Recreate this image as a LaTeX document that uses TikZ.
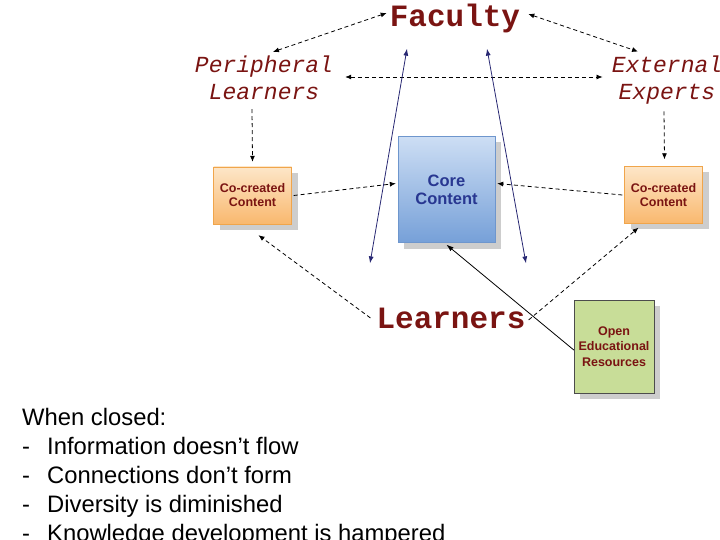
\documentclass[tikz,border=0pt]{standalone}
\usepackage{fontspec}
\setmainfont{Liberation Sans}
\newfontfamily\courierfont{Liberation Mono}
\usepackage{tikz}
\usetikzlibrary{arrows.meta,shadows}
\definecolor{maroon}{RGB}{122,20,18}
\definecolor{navy}{RGB}{40,40,115}
\definecolor{corefg}{RGB}{40,55,145}
\definecolor{coretop}{RGB}{205,222,244}
\definecolor{corebot}{RGB}{118,160,216}
\definecolor{coreline}{RGB}{110,150,205}
\definecolor{orangetop}{RGB}{253,230,200}
\definecolor{orangebot}{RGB}{249,184,110}
\definecolor{orangeline}{RGB}{240,165,75}
\definecolor{oergreen}{RGB}{200,221,152}
\definecolor{shadowgray}{RGB}{205,205,205}

\tikzset{
  actor/.style={inner sep=0pt,text=maroon,font=\courierfont\bfseries\fontsize{31}{31}\selectfont},
  outer/.style={inner sep=0pt,align=center,text=maroon,font=\courierfont\itshape\fontsize{23}{27}\selectfont},
  box/.style={draw,rectangle,align=center,inner sep=0pt,
    general shadow={fill=shadowgray,shadow xshift=6pt,shadow yshift=-6pt}},
  cocreated/.style={box,orangeline,top color=orangetop,bottom color=orangebot,
    minimum width=78pt,minimum height=57pt,text=maroon,font=\bfseries\fontsize{12.5}{14}\selectfont},
  dasharrow/.style={line width=0.8pt,dash pattern=on 4pt off 3pt,{Latex[length=6pt,width=5pt]}-{Latex[length=6pt,width=5pt]}},
  dashto/.style={line width=0.8pt,dash pattern=on 4pt off 3pt,-{Latex[length=6pt,width=5pt]}},
  tip/.style={line width=0.8pt,{Latex[length=7pt,width=5pt]}-{Latex[length=7pt,width=5pt]}}
}

\begin{document}
\begin{tikzpicture}[x=1pt,y=-1pt]
  \useasboundingbox (0,0) rectangle (720,540);
  % people
  \node[actor,anchor=base] (faculty) at (455,27) {Faculty};
  \node[outer] (periph) at (264,78) {Peripheral\\Learners};
  \node[outer] (external) at (667,80) {External\\Experts};
  \node[actor,anchor=base] (learners) at (451,328) {Learners};
  % content
  \node[cocreated] (cocleft) at (252.5,195.5) {Co-created\\Content};
  \node[cocreated] (cocright) at (663.5,195) {Co-created\\Content};
  \node[box,coreline,top color=coretop,bottom color=corebot,minimum width=97pt,minimum height=106pt,
    text=corefg,font=\bfseries\fontsize{16.5}{18}\selectfont] (core) at (446.5,189.5) {Core\\Content};
  \node[box,draw=black!70,fill=oergreen,minimum width=80pt,minimum height=93pt,
    text=maroon,font=\bfseries\fontsize{12.5}{15.5}\selectfont] (oer) at (614,346.5) {Open\\Educational\\Resources};
  % dashed links
  \draw[dasharrow] ([xshift=-3pt,yshift=6pt]faculty.west) -- ([xshift=9pt,yshift=4pt]periph.north);
  \draw[dasharrow] ([xshift=8pt,yshift=5pt]faculty.east) -- ([xshift=-29pt,yshift=4pt]external.north);
  \draw[dasharrow] ([xshift=12pt,yshift=1pt]periph.east) -- ([xshift=-9pt,yshift=3pt]external.west);
  \draw[dashto] ([xshift=-12pt,yshift=-9pt]periph.south) -- ([yshift=5pt]cocleft.north);
  \draw[dashto] ([xshift=-3pt,yshift=-7pt]external.south) -- ([xshift=1pt,yshift=7pt]cocright.north);
  \draw[dashto] ([xshift=2pt]cocleft.east) -- ([xshift=-2pt,yshift=6pt]core.west);
  \draw[dashto] ([xshift=-2pt]cocright.west) -- ([xshift=2pt,yshift=6pt]core.east);
  \draw[dashto] ([xshift=-6pt]learners.west) -- ([xshift=6pt,yshift=-11pt]cocleft.south);
  \draw[dashto] ([xshift=3pt,yshift=-2pt]learners.east) -- ([xshift=-25pt,yshift=-4pt]cocright.south);
  % faculty <-> learners
  \draw[navy,tip] ([xshift=-48pt,yshift=-15pt]faculty.south) -- ([xshift=-81pt,yshift=44pt]learners.north);
  \draw[navy,tip] ([xshift=32pt,yshift=-15pt]faculty.south) -- ([xshift=75pt,yshift=44pt]learners.north);
  \draw[line width=0.8pt,-{Latex[length=7pt,width=5pt]}] ([yshift=-3.5pt]oer.west) -- ([yshift=-2pt]core.south);
  % closing note
  \foreach \n/\y/\txt in {0/425/When closed:,1/454/Information doesn’t flow,2/483/Connections don’t form,
      3/512/Diversity is diminished,4/541/Knowledge development is hampered}{
    \ifnum\n=0
      \node[anchor=base west,inner sep=0pt,font=\fontsize{23.8}{29}\selectfont] (note\n) at (22,\y) {\txt};
    \else
      \node[anchor=base west,inner sep=0pt,font=\fontsize{23.8}{29}\selectfont] (note\n) at (22,\y) {\makebox[25pt][l]{-}\txt};
    \fi
  }
\end{tikzpicture}
\end{document}
